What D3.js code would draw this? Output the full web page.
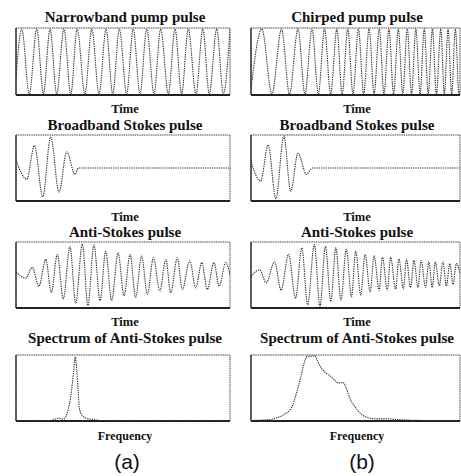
<!DOCTYPE html>
<html>
<head>
<meta charset="utf-8">
<script src="https://cdn.jsdelivr.net/npm/d3@7"></script>
<style>
  html, body { margin: 0; padding: 0; background: #fff; }
  svg { display: block; }
  .serif { font-family: "Liberation Serif", "Times New Roman", Times, serif; font-weight: bold; }
  .sans { font-family: "Liberation Sans", Arial, sans-serif; }
</style>
</head>
<body>
<svg id="chart" width="461" height="476"></svg>
<script>
// ---------- DATA ----------
// time / frequency axis runs 0..100 (arbitrary units); amplitudes normalised
const titlesA = ["Narrowband pump pulse", "Broadband Stokes pulse", "Anti-Stokes pulse", "Spectrum of Anti-Stokes pulse"];
const titlesB = ["Chirped pump pulse", "Broadband Stokes pulse", "Anti-Stokes pulse", "Spectrum of Anti-Stokes pulse"];
const xLabels = ["Time", "Time", "Time", "Frequency"];
const panelLabels = ["(a)", "(b)"];

// extrema (t, amplitude) of each waveform
const pumpNarrow = [[0,-0.5],[2.7,1],[6.2,-1],[9.7,1],[12.8,-1],[15.9,1],[19.0,-1],[22.4,1],[25.6,-1],[28.6,1],[32.2,-1],[35.4,1],[38.8,-1],[42.1,1],[45.2,-1],[48.3,1],[51.7,-1],[54.8,1],[57.9,-1],[61.1,1],[64.5,-1],[67.6,1],[71.2,-1],[74.3,1],[77.4,-1],[80.5,1],[84.1,-1],[87.3,1],[90.3,-1],[93.8,1],[96.9,-1],[100,1]];
const pumpChirped = [[0,-0.85],[5.2,1],[10.0,-1],[14.6,1],[18.4,-1],[22.5,1],[25.8,-1],[29.2,1],[32.2,-1],[35.2,1],[38.1,-1],[41.1,1],[43.6,-1],[46.3,1],[48.8,-1],[51.4,1],[53.9,-1],[56.5,1],[58.9,-1],[61.4,1],[63.6,-1],[66.0,1],[68.2,-1],[70.5,1],[72.6,-1],[74.8,1],[76.8,-1],[78.9,1],[80.9,-1],[82.9,1],[84.8,-1],[86.8,1],[88.7,-1],[90.8,1],[92.5,-1],[94.3,1],[96.0,-1],[97.8,1],[99.5,-1],[100,-0.9]];
const stokesA = [[0,0.25],[5.0,-0.35],[8.6,0.7],[12.5,-0.9],[16.2,0.97],[20.1,-0.75],[23.7,0.5],[27.6,-0.2],[29.1,0],[100,0]];
const stokesB = [[0,0.2],[4.6,-0.41],[8.2,0.72],[11.9,-0.96],[15.7,1.0],[19.0,-0.72],[22.5,0.46],[26.5,-0.2],[29.4,0],[100,0]];
const antiStokesA = [[0,0.1],[4.5,-0.1],[7.6,0.24],[10.7,-0.35],[13.9,0.49],[16.5,-0.55],[19.3,0.64],[22.1,-0.75],[25.2,0.89],[27.9,-0.88],[31.0,0.97],[33.6,-0.95],[36.4,0.94],[39.3,-0.8],[41.9,0.74],[44.7,-0.8],[47.7,0.69],[50.5,-0.65],[53.3,0.64],[55.9,-0.7],[58.7,0.59],[61.4,-0.6],[64.2,0.54],[67.2,-0.5],[70.0,0.49],[72.3,-0.55],[75.4,0.54],[77.7,-0.45],[81.2,0.44],[84.0,-0.4],[86.8,0.39],[89.4,-0.45],[92.5,0.39],[94.9,-0.35],[98.0,0.39],[100,0]];
const antiStokesB = [[0,-0.04],[4.1,0.16],[7.3,-0.24],[11.3,0.41],[14.4,-0.48],[18.0,0.65],[21.3,-0.73],[24.3,0.85],[27.1,-0.93],[30.3,0.95],[33.0,-0.98],[35.6,0.9],[38.2,-0.83],[40.6,0.85],[43.0,-0.78],[45.6,0.8],[48.1,-0.68],[50.1,0.75],[52.5,-0.63],[54.6,0.65],[57.0,-0.53],[58.9,0.6],[61.3,-0.48],[62.9,0.55],[65.2,-0.48],[66.8,0.55],[69.2,-0.44],[70.8,0.5],[72.9,-0.44],[74.4,0.5],[76.3,-0.39],[78.0,0.45],[79.9,-0.39],[81.4,0.45],[83.5,-0.39],[85.1,0.41],[86.7,-0.39],[88.2,0.41],[90.1,-0.34],[91.8,0.41],[93.5,-0.34],[95.1,0.36],[96.7,-0.29],[98.2,0.36],[100,0.06]];
const spectrumA = [[0,0],[15.9,0],[20.2,0.035],[22.0,0.02],[24.4,0.175],[25.6,0.375],[26.5,0.625],[27.1,0.825],[27.7,0.985],[28.4,0.775],[29.0,0.475],[29.6,0.2],[30.7,0.085],[33.0,0.035],[36.1,0.015],[39.3,0],[100,0]];
const spectrumB = [[0,0],[9.0,0.015],[13.0,0.05],[16.2,0.10],[19.4,0.2],[21.8,0.43],[23.7,0.66],[25.2,0.86],[26.8,0.99],[30.5,1.0],[32.0,0.91],[33.7,0.81],[36.0,0.73],[38.4,0.68],[40.5,0.61],[42.0,0.58],[44.0,0.59],[45.6,0.5],[47.5,0.33],[50.0,0.2],[52.7,0.1],[55.9,0.045],[59.9,0.025],[64.6,0.025],[72.5,0.01],[85.2,0],[100,0]];

const seriesA = [pumpNarrow, stokesA, antiStokesA, spectrumA];
const seriesB = [pumpChirped, stokesB, antiStokesB, spectrumB];

// ---------- LAYOUT ----------
const svg = d3.select("#chart");
const cols = [
  { x0: 16, x1: 230, cx: 125, titles: titlesA, series: seriesA, label: panelLabels[0], lx: 127 },
  { x0: 251, x1: 460, cx: 357, titles: titlesB, series: seriesB, label: panelLabels[1], lx: 362 }
];
const rows = [
  { y0: 28, y1: 95, ty: 22, ly: 113, spec: false },
  { y0: 135, y1: 201, ty: 130, ly: 221, spec: false },
  { y0: 242, y1: 308, ty: 237, ly: 326, spec: false },
  { y0: 355, y1: 421, ty: 343, ly: 440, spec: true }
];

const ink = "#2e2e2e";

cols.forEach((c, ci) => {
  rows.forEach((r, ri) => {
    const g = svg.append("g");
    const x = d3.scaleLinear().domain([0, 100]).range([c.x0, c.x1]);
    const y = r.spec
      ? d3.scaleLinear().domain([0, 1]).range([r.y1 - 0.5, r.y0 + 1])
      : d3.scaleLinear().domain([-1, 1]).range([r.y1 - 1, r.y0 + 1]);

    // frame
    g.append("rect")
      .attr("x", c.x0).attr("y", r.y0)
      .attr("width", c.x1 - c.x0).attr("height", r.y1 - r.y0)
      .attr("fill", "none").attr("stroke", "#444")
      .attr("stroke-width", 1).attr("stroke-dasharray", "1.2,0.6");
    g.append("line")
      .attr("x1", c.x0).attr("x2", c.x1).attr("y1", r.y1).attr("y2", r.y1)
      .attr("stroke", "#222").attr("stroke-width", 1.8);
    g.append("line")
      .attr("x1", c.x0).attr("x2", c.x0).attr("y1", r.y0).attr("y2", r.y1)
      .attr("stroke", "#333").attr("stroke-width", 1.4);

    const clipId = `clip-${ci}-${ri}`;
    g.append("clipPath").attr("id", clipId)
      .append("rect")
      .attr("x", c.x0).attr("y", r.y0 - 1)
      .attr("width", c.x1 - c.x0).attr("height", r.y1 - r.y0 + 2);

    const line = d3.line()
      .x(d => x(d[0]))
      .y(d => y(d[1]))
      .curve(d3.curveMonotoneX);

    g.append("path")
      .datum(c.series[ri])
      .attr("clip-path", `url(#${clipId})`)
      .attr("d", line)
      .attr("fill", "none")
      .attr("stroke", ink)
      .attr("stroke-width", 1.1)
      .attr("stroke-dasharray", "1.3,1");

    // title
    svg.append("text")
      .attr("class", "serif")
      .attr("x", c.cx).attr("y", r.ty)
      .attr("text-anchor", "middle")
      .style("font-size", "15px")
      .attr("fill", "#111")
      .text(c.titles[ri]);

    // x label
    svg.append("text")
      .attr("class", "serif")
      .attr("x", c.cx).attr("y", r.ly)
      .attr("text-anchor", "middle")
      .style("font-size", r.spec ? "12px" : "12.5px")
      .attr("fill", "#111")
      .text(xLabels[ri]);
  });

  svg.append("text")
    .attr("class", "sans")
    .attr("x", c.lx).attr("y", 469)
    .attr("text-anchor", "middle")
    .style("font-size", "21px")
    .attr("fill", "#111")
    .text(c.label);
});
</script>
</body>
</html>
